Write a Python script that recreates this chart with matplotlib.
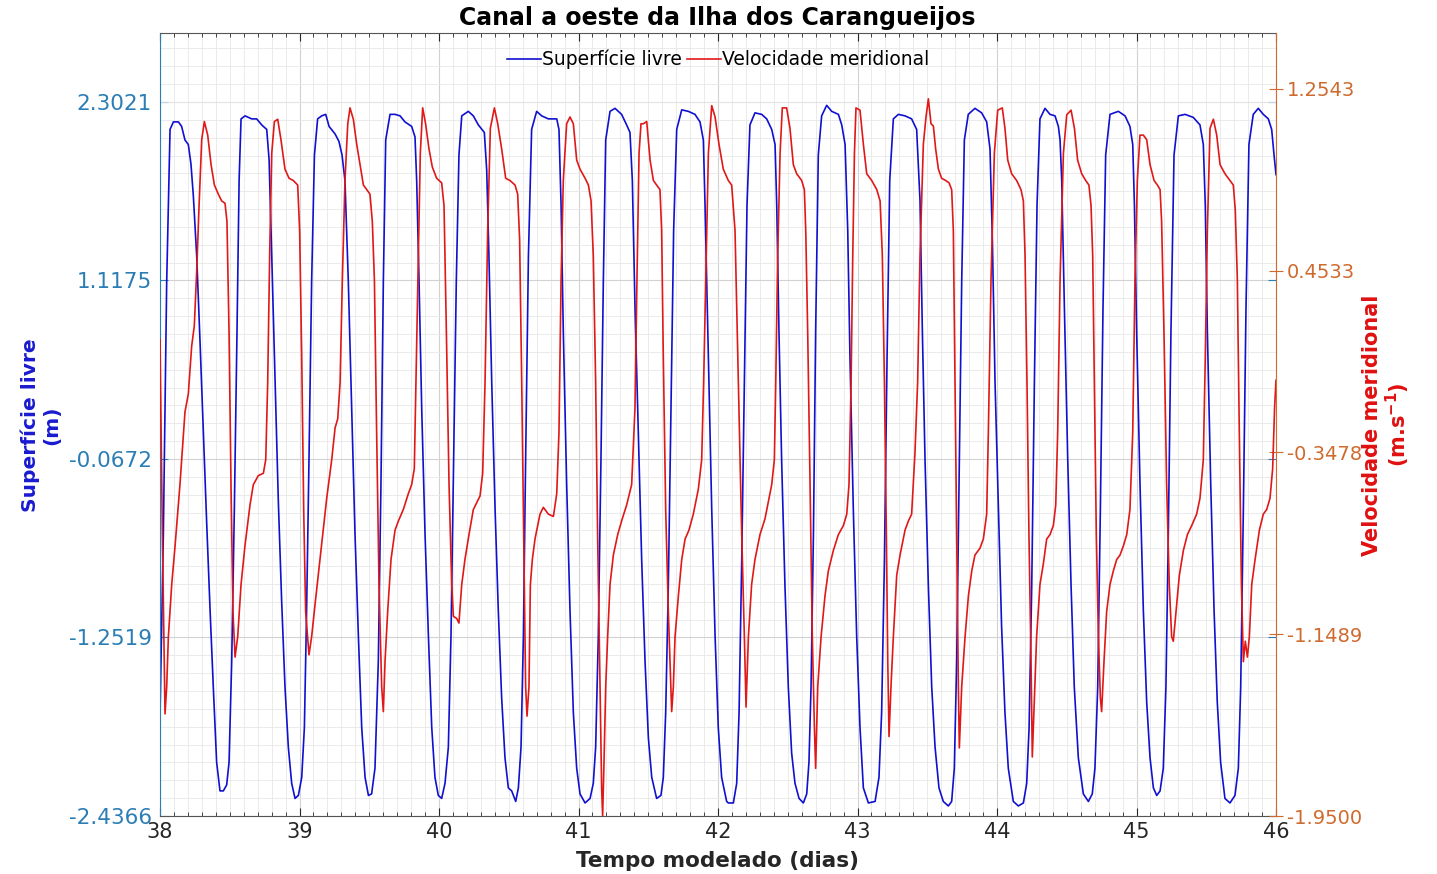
import numpy as np
import matplotlib
matplotlib.use("Agg")
import matplotlib.pyplot as plt
from matplotlib.ticker import FixedLocator, MultipleLocator

# ---------------- data ----------------
eta_t = [38.000, 38.024, 38.048, 38.072, 38.096, 38.132, 38.155, 38.179, 38.203, 38.222, 38.239, 38.263,
         38.287, 38.311, 38.335, 38.359, 38.382, 38.406, 38.430, 38.454, 38.478, 38.495, 38.514, 38.533,
         38.552, 38.567, 38.581, 38.610, 38.657, 38.693, 38.729, 38.765, 38.782, 38.801, 38.825, 38.848,
         38.872, 38.896, 38.920, 38.944, 38.968, 38.992, 39.016, 39.035, 39.051, 39.068, 39.087, 39.107,
         39.130, 39.159, 39.188, 39.212, 39.255, 39.283, 39.305, 39.326, 39.350, 39.374, 39.398, 39.422,
         39.446, 39.470, 39.494, 39.517, 39.541, 39.565, 39.584, 39.601, 39.618, 39.649, 39.685, 39.721,
         39.756, 39.804, 39.828, 39.840, 39.857, 39.876, 39.900, 39.924, 39.948, 39.971, 39.995, 40.019,
         40.043, 40.067, 40.086, 40.105, 40.124, 40.143, 40.163, 40.210, 40.246, 40.282, 40.325, 40.342,
         40.358, 40.378, 40.402, 40.425, 40.449, 40.473, 40.497, 40.521, 40.550, 40.569, 40.588, 40.605,
         40.621, 40.641, 40.664, 40.700, 40.736, 40.784, 40.844, 40.860, 40.875, 40.891, 40.915, 40.939,
         40.963, 40.987, 41.011, 41.047, 41.083, 41.106, 41.123, 41.142, 41.161, 41.178, 41.195, 41.226,
         41.262, 41.309, 41.345, 41.369, 41.386, 41.405, 41.429, 41.453, 41.477, 41.501, 41.525, 41.560,
         41.591, 41.608, 41.625, 41.644, 41.663, 41.682, 41.704, 41.740, 41.787, 41.835, 41.871, 41.895,
         41.907, 41.931, 41.955, 41.979, 42.002, 42.026, 42.062, 42.074, 42.110, 42.134, 42.151, 42.170,
         42.189, 42.208, 42.229, 42.265, 42.313, 42.349, 42.385, 42.409, 42.421, 42.437, 42.456, 42.480,
         42.504, 42.528, 42.552, 42.581, 42.612, 42.636, 42.652, 42.667, 42.684, 42.700, 42.719, 42.743,
         42.779, 42.815, 42.863, 42.887, 42.911, 42.930, 42.946, 42.970, 42.994, 43.018, 43.042, 43.078,
         43.126, 43.154, 43.173, 43.193, 43.212, 43.231, 43.257, 43.293, 43.341, 43.388, 43.424, 43.448,
         43.465, 43.484, 43.508, 43.532, 43.556, 43.584, 43.615, 43.651, 43.675, 43.694, 43.711, 43.728,
         43.747, 43.766, 43.794, 43.842, 43.890, 43.926, 43.950, 43.967, 43.986, 44.010, 44.033, 44.057,
         44.081, 44.117, 44.153, 44.189, 44.213, 44.230, 44.249, 44.268, 44.287, 44.308, 44.344, 44.380,
         44.416, 44.440, 44.452, 44.464, 44.483, 44.507, 44.531, 44.554, 44.583, 44.619, 44.655, 44.683,
         44.702, 44.722, 44.741, 44.760, 44.779, 44.810, 44.870, 44.918, 44.953, 44.973, 44.985, 45.001,
         45.025, 45.049, 45.073, 45.097, 45.121, 45.145, 45.169, 45.192, 45.211, 45.228, 45.247, 45.269,
         45.300, 45.348, 45.407, 45.455, 45.479, 45.493, 45.508, 45.532, 45.556, 45.579, 45.603, 45.634,
         45.670, 45.706, 45.730, 45.747, 45.766, 45.785, 45.806, 45.837, 45.873, 45.909, 45.945, 45.969,
         45.986, 46.000]
eta_v = [-1.78, -0.57, 1.11, 2.12, 2.17, 2.17, 2.14, 2.05, 2.02, 1.89, 1.68, 1.28,
         0.71, 0.10, -0.50, -1.07, -1.58, -2.08, -2.27, -2.27, -2.23, -2.08, -1.41, -0.40,
         0.78, 1.78, 2.19, 2.21, 2.19, 2.19, 2.15, 2.12, 1.92, 1.28, 0.44, -0.34,
         -1.01, -1.58, -1.98, -2.22, -2.32, -2.30, -2.18, -1.85, -1.07, -0.07, 1.11, 1.95,
         2.19, 2.21, 2.22, 2.14, 2.09, 2.04, 1.95, 1.78, 1.11, 0.27, -0.57, -1.24,
         -1.85, -2.18, -2.30, -2.29, -2.12, -1.41, -0.23, 1.11, 2.05, 2.22, 2.22, 2.21,
         2.17, 2.14, 2.07, 1.78, 1.11, 0.27, -0.57, -1.24, -1.85, -2.18, -2.30, -2.32,
         -2.22, -1.98, -1.24, -0.07, 1.11, 1.95, 2.21, 2.24, 2.21, 2.15, 2.10, 1.85,
         1.28, 0.44, -0.40, -1.07, -1.65, -2.05, -2.25, -2.27, -2.34, -2.25, -1.98, -1.24,
         -0.07, 1.28, 2.12, 2.24, 2.21, 2.19, 2.19, 2.12, 1.62, 0.78, -0.23, -1.07,
         -1.75, -2.12, -2.29, -2.35, -2.32, -2.22, -1.98, -1.24, -0.07, 1.11, 2.05, 2.24,
         2.26, 2.22, 2.15, 2.10, 1.78, 0.94, 0.10, -0.74, -1.41, -1.92, -2.18, -2.32,
         -2.30, -2.18, -1.75, -0.91, 0.27, 1.45, 2.12, 2.25, 2.24, 2.22, 2.17, 2.05,
         1.62, 0.61, -0.40, -1.24, -1.85, -2.18, -2.34, -2.35, -2.35, -2.22, -1.75, -0.74,
         0.44, 1.62, 2.15, 2.23, 2.22, 2.19, 2.12, 2.02, 1.62, 0.78, -0.07, -0.91,
         -1.58, -2.02, -2.22, -2.32, -2.35, -2.29, -2.08, -1.58, -0.57, 0.78, 1.95, 2.21,
         2.28, 2.24, 2.22, 2.15, 2.02, 1.45, 0.61, -0.40, -1.24, -1.85, -2.25, -2.35,
         -2.34, -2.18, -1.75, -0.74, 0.61, 1.78, 2.19, 2.22, 2.21, 2.19, 2.12, 1.65,
         0.78, -0.07, -0.91, -1.58, -1.98, -2.25, -2.34, -2.37, -2.34, -2.12, -1.41, -0.23,
         1.11, 2.05, 2.22, 2.26, 2.23, 2.17, 1.99, 1.38, 0.44, -0.40, -1.18, -1.75,
         -2.12, -2.34, -2.37, -2.35, -2.22, -1.85, -0.91, 0.44, 1.62, 2.19, 2.26, 2.22,
         2.21, 2.14, 2.05, 1.78, 0.94, -0.07, -0.91, -1.58, -2.05, -2.29, -2.34, -2.29,
         -2.12, -1.58, -0.40, 0.94, 1.95, 2.22, 2.24, 2.21, 2.14, 2.02, 1.62, 0.78,
         -0.23, -1.07, -1.68, -2.05, -2.25, -2.30, -2.27, -2.12, -1.58, -0.57, 0.78, 1.95,
         2.21, 2.22, 2.20, 2.15, 2.02, 1.62, 0.78, -0.23, -1.07, -1.68, -2.08, -2.32,
         -2.35, -2.30, -2.12, -1.58, -0.40, 0.94, 2.02, 2.22, 2.26, 2.22, 2.19, 2.12,
         1.95, 1.82]

vel_t = [38.000, 38.017, 38.036, 38.048, 38.060, 38.084, 38.108, 38.143, 38.179, 38.203, 38.227, 38.246,
         38.263, 38.280, 38.299, 38.318, 38.342, 38.366, 38.390, 38.418, 38.442, 38.466, 38.480, 38.495,
         38.509, 38.523, 38.538, 38.557, 38.581, 38.609, 38.645, 38.669, 38.705, 38.741, 38.758, 38.772,
         38.786, 38.801, 38.820, 38.844, 38.867, 38.896, 38.925, 38.956, 38.987, 39.001, 39.016, 39.030,
         39.044, 39.068, 39.087, 39.111, 39.147, 39.195, 39.231, 39.255, 39.274, 39.291, 39.307, 39.326,
         39.346, 39.362, 39.386, 39.410, 39.434, 39.458, 39.482, 39.505, 39.522, 39.537, 39.553, 39.570,
         39.589, 39.601, 39.613, 39.632, 39.656, 39.685, 39.709, 39.744, 39.780, 39.804, 39.823, 39.835,
         39.852, 39.866, 39.883, 39.904, 39.928, 39.952, 39.983, 40.019, 40.036, 40.053, 40.072, 40.091,
         40.103, 40.127, 40.143, 40.163, 40.186, 40.215, 40.246, 40.270, 40.294, 40.313, 40.330, 40.349,
         40.368, 40.397, 40.421, 40.449, 40.478, 40.509, 40.545, 40.564, 40.578, 40.593, 40.607, 40.621,
         40.631, 40.645, 40.655, 40.669, 40.688, 40.724, 40.748, 40.784, 40.820, 40.844, 40.860, 40.875,
         40.891, 40.915, 40.939, 40.963, 40.987, 41.011, 41.047, 41.071, 41.090, 41.106, 41.123, 41.137,
         41.154, 41.166, 41.173, 41.183, 41.195, 41.209, 41.226, 41.250, 41.281, 41.314, 41.345, 41.381,
         41.405, 41.419, 41.434, 41.448, 41.465, 41.489, 41.513, 41.537, 41.560, 41.584, 41.596, 41.608,
         41.625, 41.644, 41.656, 41.668, 41.680, 41.692, 41.716, 41.740, 41.764, 41.792, 41.823, 41.859,
         41.883, 41.897, 41.912, 41.931, 41.955, 41.979, 42.007, 42.038, 42.074, 42.098, 42.122, 42.146,
         42.170, 42.189, 42.201, 42.218, 42.241, 42.265, 42.301, 42.337, 42.385, 42.404, 42.414, 42.428,
         42.445, 42.461, 42.492, 42.516, 42.540, 42.564, 42.600, 42.619, 42.629, 42.643, 42.660, 42.676,
         42.691, 42.700, 42.715, 42.739, 42.767, 42.791, 42.827, 42.863, 42.899, 42.923, 42.939, 42.954,
         42.966, 42.978, 42.989, 43.018, 43.042, 43.066, 43.102, 43.138, 43.162, 43.178, 43.193, 43.207,
         43.217, 43.226, 43.240, 43.257, 43.281, 43.305, 43.341, 43.365, 43.388, 43.412, 43.431, 43.448,
         43.472, 43.491, 43.508, 43.527, 43.544, 43.560, 43.580, 43.603, 43.632, 43.656, 43.675, 43.687,
         43.699, 43.711, 43.723, 43.730, 43.747, 43.771, 43.795, 43.819, 43.842, 43.878, 43.902, 43.926,
         43.938, 43.957, 43.981, 44.005, 44.038, 44.057, 44.077, 44.105, 44.141, 44.172, 44.189, 44.201,
         44.215, 44.229, 44.244, 44.253, 44.268, 44.284, 44.308, 44.332, 44.356, 44.380, 44.404, 44.421,
         44.435, 44.452, 44.476, 44.500, 44.531, 44.555, 44.578, 44.607, 44.636, 44.659, 44.674, 44.686,
         44.698, 44.712, 44.727, 44.741, 44.750, 44.767, 44.786, 44.810, 44.834, 44.858, 44.882, 44.906,
         44.930, 44.953, 44.973, 44.989, 45.006, 45.025, 45.049, 45.073, 45.097, 45.126, 45.150, 45.169,
         45.180, 45.197, 45.216, 45.235, 45.252, 45.264, 45.283, 45.307, 45.336, 45.365, 45.396, 45.431,
         45.455, 45.479, 45.493, 45.508, 45.527, 45.551, 45.575, 45.599, 45.634, 45.670, 45.694, 45.708,
         45.723, 45.737, 45.752, 45.766, 45.780, 45.795, 45.809, 45.826, 45.850, 45.881, 45.909, 45.933,
         45.957, 45.976, 45.990, 46.000]
vel_v = [0.15, -0.71, -1.50, -1.38, -1.16, -0.93, -0.76, -0.49, -0.17, -0.09, 0.12, 0.21,
         0.45, 0.74, 1.03, 1.11, 1.05, 0.92, 0.83, 0.79, 0.76, 0.75, 0.67, 0.18,
         -0.49, -1.05, -1.25, -1.16, -0.93, -0.76, -0.58, -0.49, -0.45, -0.44, -0.38, -0.04,
         0.52, 0.97, 1.11, 1.12, 1.03, 0.90, 0.86, 0.85, 0.83, 0.63, 0.07, -0.60,
         -1.05, -1.24, -1.16, -1.02, -0.82, -0.55, -0.38, -0.24, -0.20, -0.04, 0.41, 0.85,
         1.10, 1.17, 1.12, 1.01, 0.92, 0.83, 0.81, 0.79, 0.67, 0.41, -0.26, -0.93,
         -1.38, -1.49, -1.27, -1.05, -0.82, -0.69, -0.65, -0.60, -0.53, -0.49, -0.42, -0.04,
         0.52, 0.97, 1.17, 1.10, 0.99, 0.91, 0.86, 0.84, 0.74, 0.18, -0.49, -0.93,
         -1.07, -1.08, -1.10, -0.93, -0.82, -0.71, -0.60, -0.57, -0.54, -0.44, -0.04, 0.63,
         1.08, 1.17, 1.10, 0.99, 0.86, 0.85, 0.83, 0.79, 0.59, -0.04, -0.71, -1.38,
         -1.51, -1.38, -0.93, -0.82, -0.73, -0.62, -0.59, -0.62, -0.63, -0.53, -0.26, 0.41,
         0.85, 1.10, 1.13, 1.10, 0.94, 0.90, 0.86, 0.83, 0.76, 0.52, -0.04, -0.71,
         -1.38, -1.83, -1.95, -1.71, -1.38, -1.16, -0.93, -0.80, -0.71, -0.64, -0.58, -0.49,
         -0.15, 0.41, 0.97, 1.10, 1.10, 1.11, 0.94, 0.85, 0.83, 0.81, 0.63, 0.07,
         -0.60, -1.05, -1.27, -1.49, -1.38, -1.16, -0.98, -0.82, -0.73, -0.69, -0.62, -0.51,
         -0.38, -0.04, 0.41, 0.97, 1.18, 1.13, 1.01, 0.90, 0.85, 0.83, 0.63, -0.04,
         -0.71, -1.16, -1.47, -1.16, -0.93, -0.82, -0.71, -0.64, -0.49, -0.38, -0.04, 0.52,
         0.97, 1.17, 1.17, 1.08, 0.92, 0.88, 0.85, 0.81, 0.63, 0.18, -0.49, -1.16,
         -1.56, -1.74, -1.38, -1.16, -0.98, -0.87, -0.78, -0.71, -0.67, -0.62, -0.49, -0.04,
         0.52, 0.97, 1.17, 1.16, 1.01, 0.88, 0.85, 0.81, 0.76, 0.52, -0.04, -0.71,
         -1.27, -1.60, -1.38, -1.16, -0.89, -0.80, -0.69, -0.65, -0.62, -0.35, -0.04, 0.52,
         1.01, 1.13, 1.21, 1.10, 1.09, 0.99, 0.90, 0.86, 0.85, 0.84, 0.81, 0.63,
         -0.04, -0.71, -1.38, -1.65, -1.38, -1.16, -0.98, -0.87, -0.80, -0.77, -0.73, -0.62,
         -0.26, 0.41, 0.97, 1.16, 1.17, 1.08, 0.94, 0.88, 0.85, 0.81, 0.76, 0.52,
         -0.04, -0.71, -1.27, -1.69, -1.43, -1.16, -0.93, -0.84, -0.73, -0.71, -0.67, -0.58,
         -0.26, 0.41, 0.97, 1.14, 1.16, 1.08, 0.94, 0.88, 0.85, 0.83, 0.74, 0.52,
         -0.04, -0.71, -1.16, -1.43, -1.49, -1.27, -1.05, -0.93, -0.87, -0.82, -0.80, -0.76,
         -0.71, -0.60, -0.26, 0.41, 0.85, 1.05, 1.05, 1.03, 0.92, 0.85, 0.83, 0.81,
         0.67, 0.18, -0.49, -0.93, -1.16, -1.18, -1.05, -0.89, -0.78, -0.71, -0.67, -0.62,
         -0.55, -0.38, 0.07, 0.63, 1.08, 1.12, 1.05, 0.92, 0.88, 0.85, 0.83, 0.72,
         0.41, -0.26, -0.93, -1.27, -1.18, -1.25, -1.16, -0.93, -0.82, -0.69, -0.62, -0.60,
         -0.55, -0.42, -0.15, -0.03]

x_ticks = [38, 39, 40, 41, 42, 43, 44, 45, 46]
left_ticks = [-2.4366, -1.2519, -0.0672, 1.1175, 2.3021]
left_labels = ["-2.4366", "-1.2519", "-0.0672", "1.1175", "2.3021"]
right_ticks = [-1.9500, -1.1489, -0.3478, 0.4533, 1.2543]
right_labels = ["-1.9500", "-1.1489", "-0.3478", "0.4533", "1.2543"]

title = "Canal a oeste da Ilha dos Carangueijos"
xlabel = "Tempo modelado (dias)"
label_eta = "Superfície livre"
label_vel = "Velocidade meridional"

# ---------------- figure ----------------
plt.rcParams['font.family'] = ['DejaVu Sans']
W, H = 1437, 874
fig = plt.figure(figsize=(W / 100, H / 100), dpi=100)
x0, x1, y0, y1 = 160, 1276, 33, 816
ax = fig.add_axes([x0 / W, 1 - y1 / H, (x1 - x0) / W, (y1 - y0) / H])
ax2 = ax.twinx()

c_left = '#2a7db5'
c_right = '#cf6a2e'
c_blue = '#1010d0'
c_red = '#e01818'

ax.set_xlim(38, 46)
ax.set_ylim(-2.4366, 2.76)
ax2.set_ylim(-1.95, 1.5)

# grid
ax.set_xticks(x_ticks)
ax.xaxis.set_minor_locator(MultipleLocator(0.1))
step = (left_ticks[1] - left_ticks[0]) / 10
ax.set_yticks(left_ticks)
ax.set_yticklabels(left_labels)
ax.yaxis.set_minor_locator(FixedLocator(np.arange(left_ticks[0], 2.76, step)))
ax.grid(True, which='major', color='#d2d2d2', linewidth=0.8)
ax.grid(True, which='minor', color='#e8e8e8', linewidth=0.6)
ax.set_axisbelow(True)

l1, = ax.plot(eta_t, eta_v, color=c_blue, linewidth=1.2, label=label_eta)
l2, = ax2.plot(vel_t, vel_v, color=c_red, linewidth=1.2, label=label_vel)

ax.tick_params(axis='x', which='both', direction='in', top=True, bottom=True,
               labelsize=15, colors='#262626', pad=4)
ax.tick_params(axis='x', which='major', length=6)
ax.tick_params(axis='x', which='minor', length=3)
ax.tick_params(axis='y', which='major', direction='in', left=True, right=True, length=6,
               labelsize=15.5, colors=c_left, labelright=False, pad=6)
ax.tick_params(axis='y', which='minor', left=False, right=False)

ax2.set_yticks(right_ticks)
ax2.set_yticklabels(right_labels)
ax2.tick_params(axis='y', direction='inout', length=10, labelsize=14, colors=c_right, pad=3)

for sp in ['top', 'bottom']:
    ax.spines[sp].set_color('#555555')
    ax2.spines[sp].set_visible(False)
ax.spines['left'].set_color(c_left)
ax.spines['right'].set_visible(False)
ax2.spines['left'].set_visible(False)
ax2.spines['right'].set_color(c_right)

leg = ax2.legend(handles=[l1, l2], loc='upper center', bbox_to_anchor=(0.5, 1.0), ncol=2,
                 frameon=False, fontsize=13.5, handlelength=1.8, handletextpad=0.05,
                 columnspacing=0.3)

fig.text(717 / W, 1 - 18 / H, title, ha='center', va='center', fontsize=17,
         fontweight='bold', color='black')
fig.text(717 / W, 1 - 861 / H, xlabel, ha='center', va='center', fontsize=15.5,
         fontweight='bold', color='#262626')
fig.text(41 / W, 1 - 425 / H, label_eta + "\n(m)", rotation=90, ha='center', va='center',
         multialignment='center', fontsize=14.5, fontweight='bold', color='#1a1ad0',
         linespacing=1.1)
fig.text(1387 / W, 1 - 425 / H, label_vel + "\n" + r"(m.s$^{\mathbf{-1}}$)", rotation=90,
         ha='center', va='center', multialignment='center', fontsize=15,
         fontweight='bold', color='#e01010', linespacing=1.1)

fig.savefig('out.png', dpi=100)
